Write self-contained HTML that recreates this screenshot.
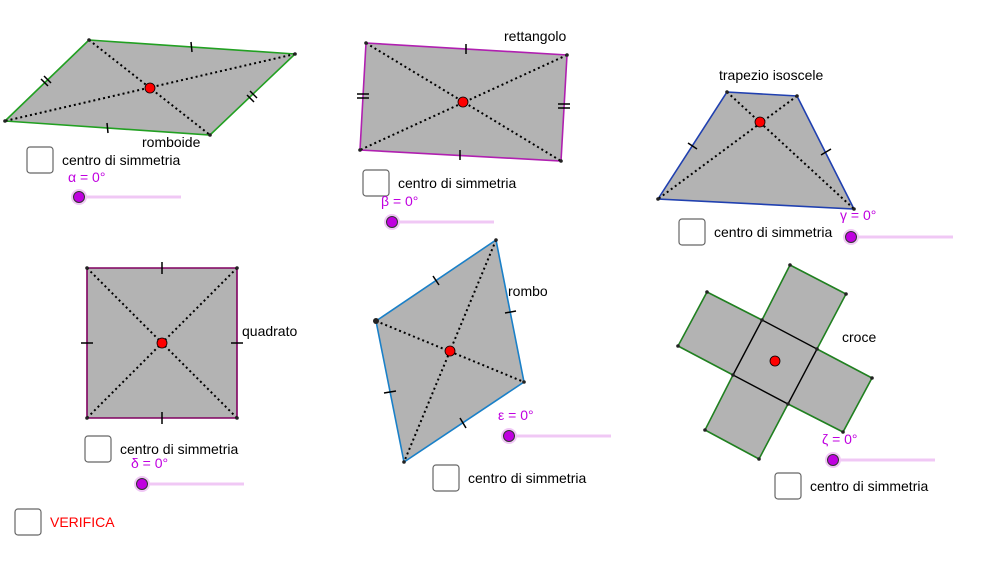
<!DOCTYPE html>
<html><head><meta charset="utf-8"><style>
html,body{margin:0;padding:0;background:#fff;}
svg{display:block;font-family:"Liberation Sans",sans-serif;}
.poly{fill:#b3b3b3;stroke-width:1.6}
.dia{stroke:#000;stroke-width:2;stroke-dasharray:2,3;fill:none}
.tk{stroke:#000;stroke-width:1.5}
.v{fill:#222}
.c{fill:#f00;stroke:#000;stroke-width:0.8}
.lbl{font-size:14px;fill:#000}
.gl{font-size:14px;fill:#c000e0}
.cb{fill:#fff;stroke:#666;stroke-width:1.2}
.sl{stroke:#f0c8f5;stroke-width:3}
.kn{fill:#c000e0;stroke:#333;stroke-width:1}
.halo{fill:#f0c8f5}
</style></head><body>
<svg width="994" height="586" viewBox="0 0 994 586">
<!-- romboide -->
<polygon class="poly" stroke="#22a022" points="89,40 295,54 210,135 5,121"/>
<line class="dia" x1="89" y1="40" x2="210" y2="135"/><line class="dia" x1="295" y1="54" x2="5" y2="121"/>
<line class="tk" x1="191" y1="42" x2="192" y2="52"/><line class="tk" x1="107" y1="123" x2="108" y2="133"/>
<line class="tk" x1="41" y1="79" x2="48" y2="86"/><line class="tk" x1="44" y1="76" x2="51" y2="83"/>
<line class="tk" x1="247" y1="95" x2="254" y2="102"/><line class="tk" x1="250" y1="91" x2="257" y2="98"/>
<circle class="v" cx="89" cy="40" r="1.8"/><circle class="v" cx="295" cy="54" r="1.8"/><circle class="v" cx="210" cy="135" r="1.8"/><circle class="v" cx="5" cy="121" r="1.8"/>
<circle class="c" cx="150" cy="88" r="5"/>
<text class="lbl" x="142" y="147">romboide</text>
<!-- rettangolo -->
<polygon class="poly" stroke="#b020b0" points="366,43 567,55 561,161 360,150"/>
<line class="dia" x1="366" y1="43" x2="561" y2="161"/><line class="dia" x1="567" y1="55" x2="360" y2="150"/>
<line class="tk" x1="466" y1="44" x2="466" y2="54"/><line class="tk" x1="460" y1="150" x2="460" y2="160"/>
<line class="tk" x1="357" y1="94" x2="369" y2="94"/><line class="tk" x1="357" y1="98" x2="369" y2="98"/>
<line class="tk" x1="558" y1="104" x2="570" y2="104"/><line class="tk" x1="558" y1="108" x2="570" y2="108"/>
<circle class="v" cx="366" cy="43" r="1.8"/><circle class="v" cx="567" cy="55" r="1.8"/><circle class="v" cx="561" cy="161" r="1.8"/><circle class="v" cx="360" cy="150" r="1.8"/>
<circle class="c" cx="463" cy="102" r="5"/>
<text class="lbl" x="504" y="41">rettangolo</text>
<!-- trapezio -->
<polygon class="poly" stroke="#2040b0" points="727,92 797,96 854,209 658,199"/>
<line class="dia" x1="727" y1="92" x2="854" y2="209"/><line class="dia" x1="797" y1="96" x2="658" y2="199"/>
<line class="tk" x1="688" y1="143" x2="697" y2="149"/><line class="tk" x1="821" y1="155" x2="831" y2="149"/>
<circle class="v" cx="727" cy="92" r="1.8"/><circle class="v" cx="797" cy="96" r="1.8"/><circle class="v" cx="854" cy="209" r="1.8"/><circle class="v" cx="658" cy="199" r="1.8"/>
<circle class="c" cx="760" cy="122" r="5"/>
<text class="lbl" x="719" y="80">trapezio isoscele</text>
<!-- quadrato -->
<polygon class="poly" stroke="#800060" points="87,268 237,268 237,418 87,418"/>
<line class="dia" x1="87" y1="268" x2="237" y2="418"/><line class="dia" x1="237" y1="268" x2="87" y2="418"/>
<line class="tk" x1="162" y1="262" x2="162" y2="274"/><line class="tk" x1="162" y1="412" x2="162" y2="424"/>
<line class="tk" x1="81" y1="343" x2="93" y2="343"/><line class="tk" x1="231" y1="343" x2="243" y2="343"/>
<circle class="v" cx="87" cy="268" r="1.8"/><circle class="v" cx="237" cy="268" r="1.8"/><circle class="v" cx="237" cy="418" r="1.8"/><circle class="v" cx="87" cy="418" r="1.8"/>
<circle class="c" cx="162" cy="343" r="5"/>
<text class="lbl" x="242" y="336">quadrato</text>
<!-- rombo -->
<polygon class="poly" stroke="#1a80c8" points="376,321 496,240 524,382 404,462"/>
<line class="dia" x1="376" y1="321" x2="524" y2="382"/><line class="dia" x1="496" y1="240" x2="404" y2="462"/>
<line class="tk" x1="433" y1="276" x2="439" y2="285"/><line class="tk" x1="505" y1="313" x2="516" y2="311"/>
<line class="tk" x1="384" y1="393" x2="396" y2="391"/><line class="tk" x1="460" y1="418" x2="466" y2="428"/>
<circle class="v" cx="376" cy="321" r="3"/><circle class="v" cx="496" cy="240" r="1.8"/><circle class="v" cx="524" cy="382" r="1.8"/><circle class="v" cx="404" cy="462" r="1.8"/>
<circle class="c" cx="450" cy="351" r="5"/>
<text class="lbl" x="508" y="296">rombo</text>
<!-- croce -->
<polygon class="poly" stroke="#208020" points="790,265 846,294 817,349 872,378 843,432 788,404 759,459 705,430 733,375 678,346 707,292 762,320"/>
<polygon points="762,320 817,349 788,404 733,375" fill="none" stroke="#000" stroke-width="1.4"/>
<g class="v"><circle cx="790" cy="265" r="1.8"/><circle cx="846" cy="294" r="1.8"/><circle cx="817" cy="349" r="1.8"/><circle cx="872" cy="378" r="1.8"/><circle cx="843" cy="432" r="1.8"/><circle cx="788" cy="404" r="1.8"/><circle cx="759" cy="459" r="1.8"/><circle cx="705" cy="430" r="1.8"/><circle cx="733" cy="375" r="1.8"/><circle cx="678" cy="346" r="1.8"/><circle cx="707" cy="292" r="1.8"/><circle cx="762" cy="320" r="1.8"/></g>
<circle class="c" cx="775" cy="361" r="5"/>
<text class="lbl" x="842" y="342">croce</text>
<!-- checkboxes -->
<rect class="cb" x="27" y="147" width="26" height="26" rx="3"/><text class="lbl" x="62" y="165">centro di simmetria</text>
<rect class="cb" x="363" y="170" width="26" height="26" rx="3"/><text class="lbl" x="398" y="188">centro di simmetria</text>
<rect class="cb" x="679" y="219" width="26" height="26" rx="3"/><text class="lbl" x="714" y="237">centro di simmetria</text>
<rect class="cb" x="85" y="436" width="26" height="26" rx="3"/><text class="lbl" x="120" y="454">centro di simmetria</text>
<rect class="cb" x="433" y="465" width="26" height="26" rx="3"/><text class="lbl" x="468" y="483">centro di simmetria</text>
<rect class="cb" x="775" y="473" width="26" height="26" rx="3"/><text class="lbl" x="810" y="491">centro di simmetria</text>
<rect class="cb" x="15" y="509" width="26" height="26" rx="3"/><text x="50" y="527" font-size="14" fill="#f00">VERIFICA</text>
<!-- sliders -->
<text class="gl" x="68" y="182">α = 0°</text><line class="sl" x1="79" y1="197" x2="181" y2="197"/><circle class="halo" cx="79" cy="197" r="8"/><circle class="kn" cx="79" cy="197" r="5.5"/>
<text class="gl" x="381" y="206">β = 0°</text><line class="sl" x1="392" y1="222" x2="494" y2="222"/><circle class="halo" cx="392" cy="222" r="8"/><circle class="kn" cx="392" cy="222" r="5.5"/>
<text class="gl" x="840" y="220">γ = 0°</text><line class="sl" x1="851" y1="237" x2="953" y2="237"/><circle class="halo" cx="851" cy="237" r="8"/><circle class="kn" cx="851" cy="237" r="5.5"/>
<text class="gl" x="131" y="468">δ = 0°</text><line class="sl" x1="142" y1="484" x2="244" y2="484"/><circle class="halo" cx="142" cy="484" r="8"/><circle class="kn" cx="142" cy="484" r="5.5"/>
<text class="gl" x="498" y="420">ε = 0°</text><line class="sl" x1="509" y1="436" x2="611" y2="436"/><circle class="halo" cx="509" cy="436" r="8"/><circle class="kn" cx="509" cy="436" r="5.5"/>
<text class="gl" x="822" y="444">ζ = 0°</text><line class="sl" x1="833" y1="460" x2="935" y2="460"/><circle class="halo" cx="833" cy="460" r="8"/><circle class="kn" cx="833" cy="460" r="5.5"/>
</svg>
</body></html>
